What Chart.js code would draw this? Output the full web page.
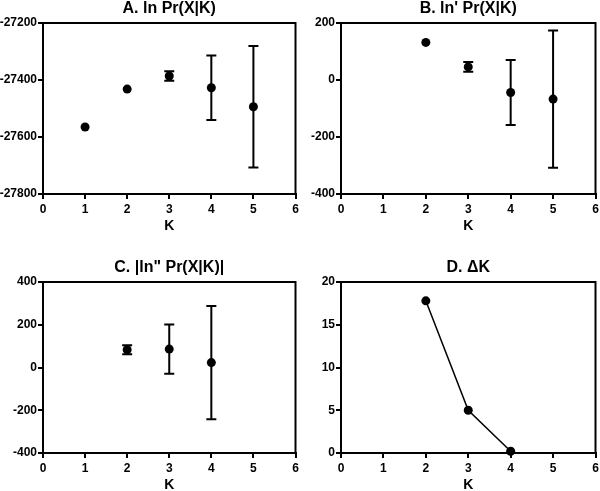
<!DOCTYPE html>
<html>
<head>
<meta charset="utf-8">
<script src="https://cdn.jsdelivr.net/npm/chart.js@4.4.0/dist/chart.umd.min.js"></script>
<style>
  html, body { margin: 0; padding: 0; background: #fff; }
  #wrap { position: relative; width: 600px; height: 491px; overflow: hidden; }
  .panel { position: absolute; width: 300px; height: 245px; }
</style>
</head>
<body>
<div id="wrap">
  <div class="panel" style="left:0;top:0"><canvas id="chartA" width="300" height="245"></canvas></div>
  <div class="panel" style="left:300px;top:0"><canvas id="chartB" width="300" height="245"></canvas></div>
  <div class="panel" style="left:0;top:259px"><canvas id="chartC" width="300" height="245"></canvas></div>
  <div class="panel" style="left:300px;top:259px"><canvas id="chartD" width="300" height="245"></canvas></div>
</div>
<script>
// A. ln Pr(X|K)  (mean +/- sd)
const kA = [1, 2, 3, 4, 5];
const meanA = [-27565, -27432, -27386, -27427, -27494];
const sdA = [0, 0, 17, 113, 213];

// B. ln' Pr(X|K)
const kB = [2, 3, 4, 5];
const meanB = [132, 46, -44, -67];
const sdB = [0, 17, 114, 241];

// C. |ln'' Pr(X|K)|
const kC = [2, 3, 4];
const meanC = [83, 86, 23];
const sdC = [21, 115, 265];

// D. delta K
const kD = [2, 3, 4];
const deltaK = [17.8, 5.0, 0.2];

const titles = ['A. ln Pr(X|K)', "B. ln' Pr(X|K)", 'C. |ln" Pr(X|K)|', 'D. \u0394K'];

Chart.defaults.font.family = '"Liberation Sans", Arial, sans-serif';
Chart.defaults.font.weight = 'bold';
Chart.defaults.font.size = 12;
Chart.defaults.color = '#000';

// box around the plot area
const frame = {
    id: 'frame',
    beforeDatasetsDraw(chart) {
        const a = chart.chartArea;
        const ctx = chart.ctx;
        ctx.save();
        ctx.strokeStyle = '#000';
        ctx.lineWidth = 2;
        ctx.strokeRect(a.left, a.top, a.right - a.left, a.bottom - a.top);
        ctx.restore();
    }
};

// vertical error bars with caps, from dataset.errors
const errorBars = {
    id: 'errorBars',
    afterDatasetsDraw(chart) {
        const ctx = chart.ctx;
        const xs = chart.scales.x;
        const ys = chart.scales.y;
        chart.data.datasets.forEach(function(ds) {
            if (!ds.errors) return;
            ds.data.forEach(function(p, i) {
                const e = ds.errors[i];
                if (!e) return;
                const x = xs.getPixelForValue(p.x);
                const y1 = ys.getPixelForValue(p.y - e);
                const y2 = ys.getPixelForValue(p.y + e);
                ctx.save();
                ctx.strokeStyle = '#000';
                ctx.lineWidth = 2;
                ctx.beginPath();
                ctx.moveTo(x, y1); ctx.lineTo(x, y2);
                ctx.moveTo(x - 5, y1); ctx.lineTo(x + 5, y1);
                ctx.moveTo(x - 5, y2); ctx.lineTo(x + 5, y2);
                ctx.stroke();
                ctx.restore();
            });
        });
    }
};

function makeChart(id, title, ks, values, errs, yMin, yMax, yStep, yWidth, padRight, line) {
    const points = ks.map(function(k, i) { return {x: k, y: values[i]}; });
    return new Chart(document.getElementById(id), {
        type: 'scatter',
        data: {
            datasets: [{
                data: points,
                errors: errs,
                showLine: line,
                borderColor: '#000',
                borderWidth: 1.5,
                backgroundColor: '#000',
                pointRadius: 4.5,
                pointBorderWidth: 0,
                clip: false
            }]
        },
        options: {
            responsive: false,
            animation: false,
            devicePixelRatio: 1,
            layout: {padding: {left: 0, right: padRight, top: 0, bottom: 0}},
            plugins: {
                legend: {display: false},
                tooltip: {enabled: false},
                title: {
                    display: true,
                    text: title,
                    fullSize: false,
                    font: {size: 16, weight: 'bold', lineHeight: 1},
                    padding: {top: 1, bottom: 6}
                }
            },
            scales: {
                x: {
                    type: 'linear',
                    min: 0,
                    max: 6,
                    ticks: {stepSize: 1, padding: 3},
                    grid: {drawOnChartArea: false, tickLength: 5, color: '#000', lineWidth: 2},
                    border: {color: '#000', width: 2},
                    title: {display: true, text: 'K', font: {size: 14, weight: 'bold'}, padding: {top: 0, bottom: 10}},
                    afterFit(s) { s.height = 51; s.paddingLeft = 0; s.paddingRight = 0; }
                },
                y: {
                    min: yMin,
                    max: yMax,
                    ticks: {stepSize: yStep, padding: 1, callback: function(v) { return String(v); }},
                    grid: {drawOnChartArea: false, tickLength: 5, color: '#000', lineWidth: 2},
                    border: {color: '#000', width: 2},
                    afterFit(s) { s.width = yWidth; s.paddingTop = 0; s.paddingBottom = 0; }
                }
            }
        },
        plugins: [frame, errorBars]
    });
}

makeChart('chartA', titles[0], kA, meanA, sdA, -27800, -27200, 200, 43, 1, false);
makeChart('chartB', titles[1], kB, meanB, sdB, -400, 200, 200, 41, 4, false);
makeChart('chartC', titles[2], kC, meanC, sdC, -400, 400, 200, 43, 1, false);
makeChart('chartD', titles[3], kD, deltaK, null, 0, 20, 5, 41, 4, true);
</script>
</body>
</html>
